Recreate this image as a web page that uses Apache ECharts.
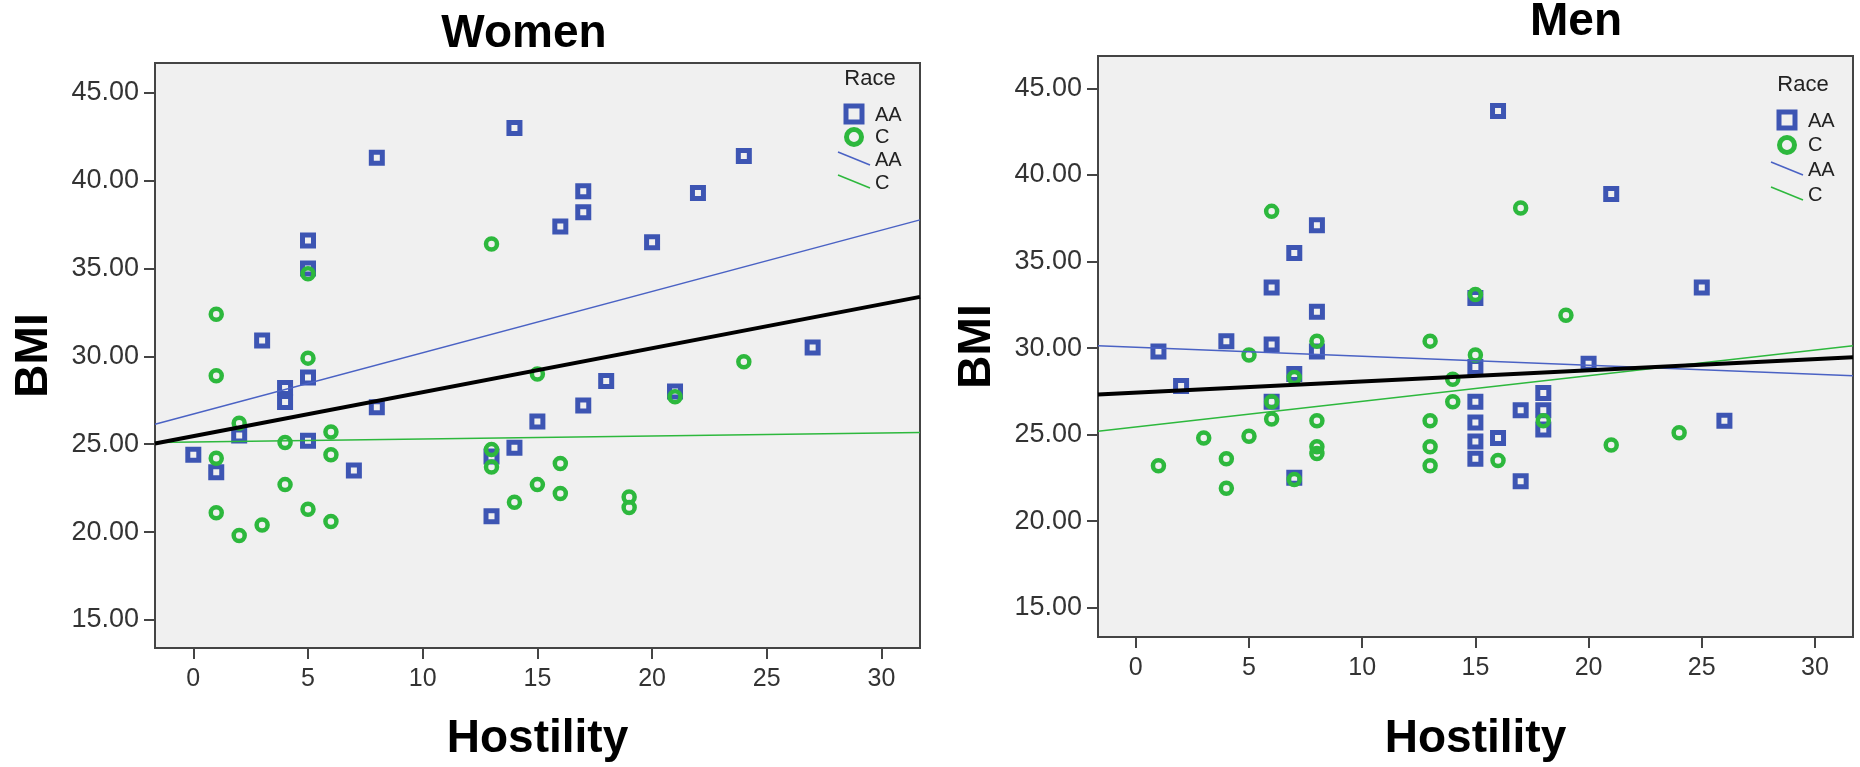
<!DOCTYPE html>
<html>
<head>
<meta charset="utf-8">
<title>BMI vs Hostility</title>
<script src="https://cdn.jsdelivr.net/npm/echarts@6/dist/echarts.min.js"></script>
<style>
  html, body { margin: 0; padding: 0; background: #fff; }
  #chart { width: 1860px; height: 767px; }
</style>
</head>
<body>
<div id="chart"></div>
<script>
// data: [hostility, BMI]
const womenAA = [
  [0, 24.4], [1, 23.4], [2, 25.5], [3, 30.9], [4, 28.2], [4, 27.4],
  [5, 36.6], [5, 35.0], [5, 28.8], [5, 25.2], [7, 23.5], [8, 41.3],
  [8, 27.1], [13, 24.3], [13, 20.9], [14, 43.0], [14, 24.8], [15, 26.3],
  [16, 37.4], [17, 39.4], [17, 38.2], [17, 27.2], [18, 28.6], [20, 36.5],
  [21, 28.0], [22, 39.3], [24, 41.4], [27, 30.5]
];
const womenC = [
  [1, 32.4], [1, 28.9], [1, 24.2], [1, 21.1], [2, 26.2], [2, 19.8],
  [3, 20.4], [4, 25.1], [4, 22.7], [5, 34.7], [5, 29.9], [5, 21.3],
  [6, 25.7], [6, 24.4], [6, 20.6], [13, 36.4], [13, 24.7], [13, 23.7],
  [14, 21.7], [15, 29.0], [15, 22.7], [16, 23.9], [16, 22.2], [19, 22.0],
  [19, 21.4], [21, 27.7], [24, 29.7]
];
const menAA = [
  [1, 29.8], [2, 27.8], [4, 30.4], [6, 33.5], [6, 30.2], [6, 26.9],
  [7, 35.5], [7, 28.5], [7, 22.5], [8, 37.1], [8, 32.1], [8, 29.8],
  [15, 32.9], [15, 28.9], [15, 26.9], [15, 25.7], [15, 24.6], [15, 23.6],
  [16, 43.7], [16, 24.8], [17, 26.4], [17, 22.3], [18, 27.4], [18, 26.4],
  [18, 25.3], [20, 29.1], [21, 38.9], [25, 33.5], [26, 25.8]
];
const menC = [
  [1, 23.2], [3, 24.8], [4, 23.6], [4, 21.9], [5, 29.6], [5, 24.9],
  [6, 37.9], [6, 26.9], [6, 25.9], [7, 28.3], [7, 22.4], [8, 30.4],
  [8, 25.8], [8, 24.3], [8, 23.9], [13, 30.4], [13, 25.8], [13, 24.3],
  [13, 23.2], [14, 28.2], [14, 26.9], [15, 33.1], [15, 29.6], [16, 23.5],
  [17, 38.1], [18, 25.8], [19, 31.9], [21, 24.4], [24, 25.1]
];

// fit lines: [intercept, slope]
const womenFitAA = [26.72, 0.3488];
const womenFitC = [25.13, 0.0171];
const womenFitAll = [25.46, 0.2502];
const menFitAA = [30.05, -0.0519];
const menFitC = [25.44, 0.148];
const menFitAll = [27.42, 0.0645];

// axis ticks
const xTicks = [0, 5, 10, 15, 20, 25, 30];
const yTicks = [15, 20, 25, 30, 35, 40, 45];

const BLUE = "#3d55b3";
const GREEN = "#2db83d";
const FONT = "'Liberation Sans', Arial, sans-serif";
const X_MIN = -1.67, X_MAX = 31.68;

function fitLine(fit) {
  return [X_MIN, X_MAX].map(x => [x, fit[0] + fit[1] * x]);
}

function xAxis(idx, gap) {
  return {
    type: "value", gridIndex: idx, min: X_MIN, max: X_MAX,
    name: "Hostility", nameLocation: "middle", nameGap: gap,
    nameTextStyle: { fontSize: 46, fontWeight: "bold", color: "#000", fontFamily: FONT },
    axisLine: { show: true, onZero: false, lineStyle: { color: "#444", width: 2 } },
    axisTick: { show: true, length: 11, customValues: xTicks, lineStyle: { color: "#444", width: 2 } },
    axisLabel: { customValues: xTicks, margin: 19, fontSize: 25, color: "#333", fontFamily: FONT },
    splitLine: { show: false }
  };
}

function yAxis(idx, min, max) {
  return {
    type: "value", gridIndex: idx, min: min, max: max,
    name: "BMI", nameLocation: "middle", nameGap: 98, nameRotate: 90,
    nameTextStyle: { fontSize: 46, fontWeight: "bold", color: "#000", fontFamily: FONT },
    axisLine: { show: true, onZero: false, lineStyle: { color: "#444", width: 2 } },
    axisTick: { show: true, length: 11, customValues: yTicks, lineStyle: { color: "#444", width: 2 } },
    axisLabel: {
      customValues: yTicks, margin: 16, fontSize: 27, color: "#333", fontFamily: FONT,
      formatter: v => v.toFixed(2)
    },
    splitLine: { show: false }
  };
}

function scatter(data, idx, shape, color) {
  return {
    type: "scatter", xAxisIndex: idx, yAxisIndex: idx, data: data,
    symbol: shape, symbolSize: 11, z: 3,
    itemStyle: { color: "rgba(0,0,0,0)", borderColor: color, borderWidth: shape === "rect" ? 5 : 4.5, opacity: 1 }
  };
}

function line(fit, idx, color, width) {
  return {
    type: "line", xAxisIndex: idx, yAxisIndex: idx, data: fitLine(fit),
    showSymbol: false, z: 4, silent: true,
    lineStyle: { color: color, width: width }
  };
}

// "Race" key drawn at cx,cy (centre of the heading), step between rows
function raceKey(cx, cy, step) {
  const t = (x, y, s, size) => ({
    type: "text", x: x, y: y,
    style: { text: s, fill: "#222", font: size + "px " + FONT, textAlign: "left", textVerticalAlign: "middle" }
  });
  const r1 = cy + 35, r2 = r1 + step, r3 = r2 + step, r4 = r3 + step;
  return [
    { type: "text", x: cx, y: cy, style: { text: "Race", fill: "#222", font: "22px " + FONT, textAlign: "center", textVerticalAlign: "middle" } },
    { type: "rect", shape: { x: cx - 24, y: r1 - 8, width: 16, height: 16 }, style: { fill: "none", stroke: BLUE, lineWidth: 5 } },
    t(cx + 5, r1 + 1, "AA", 20),
    { type: "circle", shape: { cx: cx - 16, cy: r2, r: 7.5 }, style: { fill: "none", stroke: GREEN, lineWidth: 5 } },
    t(cx + 5, r2, "C", 20),
    { type: "line", shape: { x1: cx - 32, y1: r3 - 8, x2: cx, y2: r3 + 5 }, style: { stroke: "#4a62c4", lineWidth: 1.5 } },
    t(cx + 5, r3, "AA", 20),
    { type: "line", shape: { x1: cx - 32, y1: r4 - 8, x2: cx, y2: r4 + 5 }, style: { stroke: GREEN, lineWidth: 1.5 } },
    t(cx + 5, r4, "C", 20)
  ];
}

const chart = echarts.init(document.getElementById("chart"));
chart.setOption({
  animation: false,
  backgroundColor: "#fff",
  title: [
    { text: "Women", left: 524, top: 11, textAlign: "center", padding: 0,
      textStyle: { fontSize: 46, fontWeight: "bold", color: "#000", fontFamily: FONT } },
    { text: "Men", left: 1576, top: -1, textAlign: "center", padding: 0,
      textStyle: { fontSize: 46, fontWeight: "bold", color: "#000", fontFamily: FONT } }
  ],
  grid: [
    { left: 155, top: 63, width: 765, height: 586, show: true, backgroundColor: "#f0f0f0", borderColor: "#444", borderWidth: 2 },
    { left: 1098, top: 56, width: 755, height: 591, show: true, backgroundColor: "#f0f0f0", borderColor: "#444", borderWidth: 2 }
  ],
  xAxis: [xAxis(0, 68), xAxis(1, 79)],
  yAxis: [yAxis(0, 13.4, 46.7), yAxis(1, 13.3, 46.88)],
  series: [
    scatter(womenAA, 0, "rect", BLUE),
    scatter(womenC, 0, "circle", GREEN),
    line(womenFitAA, 0, "#4a62c4", 1.5),
    line(womenFitC, 0, GREEN, 1.5),
    line(womenFitAll, 0, "#000", 4),
    scatter(menAA, 1, "rect", BLUE),
    scatter(menC, 1, "circle", GREEN),
    line(menFitAA, 1, "#4a62c4", 1.5),
    line(menFitC, 1, GREEN, 1.5),
    line(menFitAll, 1, "#000", 4)
  ],
  graphic: raceKey(870, 79, 23).concat(raceKey(1803, 85, 25))
});
</script>
</body>
</html>
